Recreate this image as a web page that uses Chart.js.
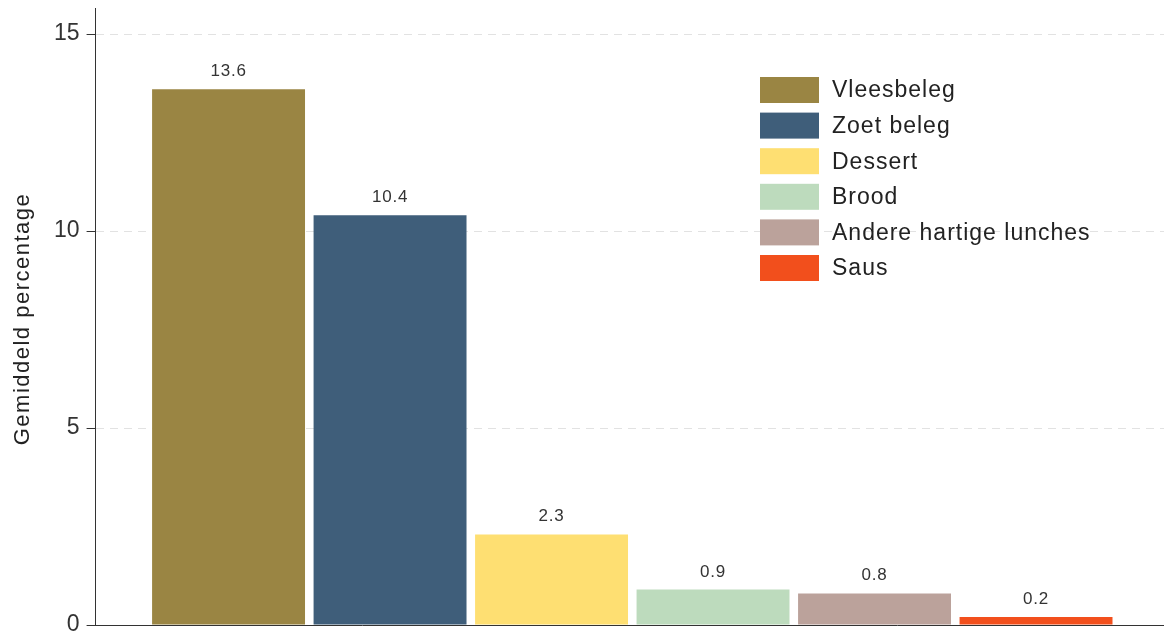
<!DOCTYPE html>
<html>
<head>
<meta charset="utf-8">
<script src="https://cdn.jsdelivr.net/npm/chart.js@4.4.1/dist/chart.umd.min.js"></script>
<style>
  html, body { margin: 0; padding: 0; background: #ffffff; }
  #wrap { position: relative; width: 1164px; height: 641px; }
</style>
</head>
<body>
<div id="wrap"><canvas id="chart"></canvas></div>
<script>
// Lunch categories and their average share (percent)
const categories = ['Vleesbeleg', 'Zoet beleg', 'Dessert', 'Brood', 'Andere hartige lunches', 'Saus'];
const percentages = [13.6, 10.4, 2.3, 0.9, 0.8, 0.2];
const yTicks = [0, 5, 10, 15];
const yTitle = 'Gemiddeld percentage';

const palette = ['#9a8543', '#3f5e7a', '#fedf72', '#bddbbd', '#bba29b', '#f24f1c'];
const FONT = '"Liberation Sans", Arial, Helvetica, sans-serif';

const datasets = categories.map((name, i) => ({
  label: name,
  data: [percentages[i]],
  backgroundColor: palette[i],
  borderWidth: 0,
  barPercentage: 0.947,
  categoryPercentage: 0.9027
}));

// The plot region runs on past the right edge of the canvas
const extendX = {
  id: 'extendX',
  afterLayout(chart) {
    const x = chart.scales.x;
    x.right += 5;
    x.width += 5;
    x.configure();
  }
};

// Value labels above bars, the inside legend and the rotated axis title
const annotate = {
  id: 'annotate',
  afterDraw(chart) {
    const ctx = chart.ctx;
    ctx.save();

    // value labels
    ctx.font = '17px ' + FONT;
    ctx.fillStyle = '#333333';
    ctx.textAlign = 'center';
    ctx.textBaseline = 'alphabetic';
    ctx.letterSpacing = '0.8px';
    chart.data.datasets.forEach((ds, i) => {
      const bar = chart.getDatasetMeta(i).data[0];
      ctx.fillText(ds.data[0].toFixed(1), bar.x, bar.y - 13);
    });

    // legend
    ctx.font = '23px ' + FONT;
    ctx.letterSpacing = '1px';
    ctx.textAlign = 'left';
    ctx.textBaseline = 'middle';
    const lx = 760, ly = 77, bw = 59, bh = 26, step = 35.6;
    chart.data.datasets.forEach((ds, i) => {
      const y = ly + i * step;
      ctx.fillStyle = ds.backgroundColor;
      ctx.fillRect(lx, y, bw, bh);
      ctx.fillStyle = '#222222';
      ctx.fillText(ds.label, 832, y + bh / 2 + 1);
    });

    // y axis title
    ctx.font = '22px ' + FONT;
    ctx.letterSpacing = '1.5px';
    ctx.fillStyle = '#222222';
    ctx.textAlign = 'center';
    ctx.textBaseline = 'middle';
    ctx.translate(23, 319);
    ctx.rotate(-Math.PI / 2);
    ctx.fillText(yTitle, 0, 0);
    ctx.restore();
  }
};

new Chart(document.getElementById('chart'), {
  type: 'bar',
  data: { labels: [''], datasets },
  plugins: [extendX, annotate],
  options: {
    responsive: true,
    maintainAspectRatio: false,
    animation: false,
    layout: { padding: { left: 47, top: 8, right: 0, bottom: 8 } },
    plugins: { legend: { display: false }, tooltip: { enabled: false } },
    scales: {
      x: {
        type: 'category',
        grid: { display: false },
        ticks: { display: false },
        border: { display: true, color: '#333333', width: 1 }
      },
      y: {
        min: 0,
        max: 15.66,
        afterBuildTicks(scale) { scale.ticks = yTicks.map(v => ({ value: v })); },
        ticks: {
          color: '#333333',
          padding: 7,
          font: { family: FONT, size: 23, lineHeight: 0.1 }
        },
        grid: {
          color: '#e2e2e2',
          lineWidth: 1,
          drawTicks: true,
          tickLength: 9,
          tickColor: '#333333',
          tickWidth: 1
        },
        border: { display: true, color: '#333333', width: 1, dash: [8, 6] }
      }
    }
  }
});
</script>
</body>
</html>
